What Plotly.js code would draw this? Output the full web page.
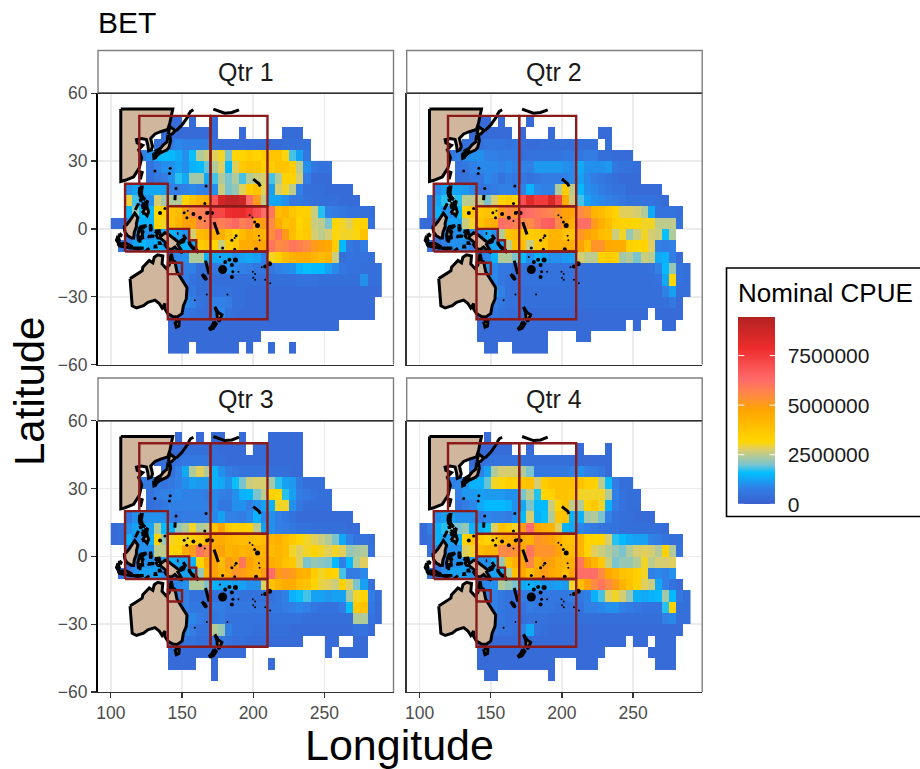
<!DOCTYPE html>
<html><head><meta charset="utf-8">
<script src="https://cdn.plot.ly/plotly-3.0.1.min.js"></script>
<style>html,body{margin:0;padding:0;background:#fff;overflow:hidden}#c{width:920px;height:769px}</style>
</head><body><div id="c"></div>
<script>
const _ = null;
// Grid cells: 5-degree tiles. Each row starts with the index of its first longitude column,
// followed by nominal CPUE in units of 100000. Rows run from north to south.
const lons = [102.5,107.5,112.5,117.5,122.5,127.5,132.5,137.5,142.5,147.5,152.5,157.5,162.5,167.5,172.5,177.5,182.5,187.5,192.5,197.5,202.5,207.5,212.5,217.5,222.5,227.5,232.5,237.5,242.5,247.5,252.5,257.5,262.5,267.5,272.5,277.5,282.5,287.5];
const lats = [52.5,47.5,42.5,37.5,32.5,27.5,22.5,17.5,12.5,7.5,2.5,-2.5,-7.5,-12.5,-17.5,-22.5,-27.5,-32.5,-37.5,-42.5,-47.5,-52.5];
const qtr1 = [
[0],
[7,3,3,3,_,3,_,_,3],
[7,3,3,3,3,3,3,3,3,_,_,_,3,_,_,_,_,_,3,3,3],
[6,4,5,7,9,8,8,8,8,4,3,3,3,3,3,3,3,3,3,4,4,4,4],
[4,8,10,15,15,15,13,10,16,24,26,28,30,20,32,32,35,33,35,37,37,31,18,12,6],
[5,5,8,10,10,12,10,14,15,19,24,28,15,28,36,38,37,34,35,38,37,35,25,10,6,5,5],
[5,4,6,7,10,17,13,23,23,13,18,24,20,24,18,24,26,27,18,24,33,33,27,7,3,3,3],
[2,10,12,13,13,13,12,8,7,8,9,8,8,10,26,20,22,28,35,38,28,12,27,30,25,8,4,4,4,3,3,3,3],
[2,29,18,10,10,27,23,24,24,32,38,42,45,68,86,90,90,88,62,50,25,13,12,10,6,6,5,4,4,4,4,3,3,3],
[2,15,22,15,15,32,33,38,40,48,55,58,60,72,72,78,80,80,76,70,62,60,40,42,37,34,34,26,17,8,7,6,5,5,4,4],
[0,3,3,7,14,14,14,33,30,38,42,48,48,56,58,60,58,60,64,58,60,48,50,55,45,38,40,32,35,26,25,20,32,30,28,32,33,5],
[2,6,10,10,10,12,12,15,12,10,27,40,42,44,44,38,34,40,45,42,43,54,60,50,40,34,36,27,25,27,31,30,30,31,38],
[1,6,8,12,15,13,14,12,15,14,14,14,35,38,32,26,35,36,45,45,47,47,60,55,56,60,58,55,50,48,46,35,15,6,5,7],
[8,8,9,10,24,24,14,13,13,13,10,12,13,12,8,30,34,40,43,45,45,42,40,42,26,4,5,5,5,4],
[8,8,9,8,8,4,4,6,8,10,9,8,7,6,6,6,8,9,10,14,16,15,15,12,9,6,5,5,4,4,4],
[8,6,7,7,5,4,4,4,4,4,4,4,4,4,4,4,4,4,4,5,5,5,4,4,4,4,4,4,10,4,4],
[8,5,6,7,6,4,4,5,5,5,4,4,3,3,3,3,3,3,3,3,3,3,3,3,3,3,3,3,3,3,3],
[8,5,7,10,8,5,4,8,8,7,4,4,3,3,3,3,3,3,3,3,3,3,3,3,3,3,3,3,3,3],
[8,5,5,6,5,4,4,8,9,5,4,3,3,3,3,3,3,3,3,3,3,3,3,3,3,3,3,3,3,3],
[8,3,3,3,3,3,3,3,3,3,3,3,3,3,3,3,3,3,3,3,3,3,3,3,3],
[8,3,3,3,3,3,3,3,3,3,3,3,3,3],
[8,3,3,3,_,3,3,3,3,3,3,_,3,_,_,3,_,_,3]
];
const qtr2 = [
[0],
[7,3,3,3,_,3,_,_,_,3],
[7,3,3,3,3,3,3,_,3,_,_,_,3,_,_,_,_,_,_,3,3],
[6,4,5,5,6,6,6,5,6,4,3,3,4,4,4,4,4,4,4,4,_,4],
[4,6,8,10,10,10,8,8,7,7,7,4,5,5,5,5,5,6,6,6,7,7,4,4,3,3,3],
[5,5,6,8,9,9,9,8,9,8,8,8,11,11,11,11,10,9,13,10,10,10,11,6,5,5,4],
[5,4,5,6,6,9,8,5,7,6,6,5,6,7,7,7,8,9,12,9,7,6,5,4,3,3,3],
[2,9,12,13,12,11,9,5,6,7,8,8,7,8,14,9,8,8,24,35,25,15,10,9,7,6,5,5,3,3,3,3,3],
[1,6,12,17,20,17,25,25,25,20,27,33,35,33,70,82,75,75,85,72,45,26,18,12,10,9,8,7,6,5,5,5,5,4,3],
[1,6,14,11,10,15,33,36,36,38,37,50,55,53,64,62,60,58,56,52,48,48,55,52,42,40,36,33,28,28,27,24,13,5,5,5,4],
[0,3,3,8,12,12,12,26,30,38,42,45,62,60,58,56,55,60,65,66,55,48,44,62,62,50,44,40,34,33,33,32,30,30,25,25,25,5],
[2,5,9,9,10,12,10,9,13,10,24,38,40,37,35,36,38,42,42,38,38,52,48,45,40,38,26,30,22,26,30,27,26,16,24],
[1,5,5,8,10,10,10,8,10,12,12,14,25,38,40,26,36,37,44,44,44,44,48,40,52,52,46,45,45,34,32,33,28,8,7,8],
[8,8,9,14,24,24,20,15,10,14,12,10,10,11,12,27,25,25,33,35,34,23,24,20,26,25,13,14,7,3],
[8,10,11,9,6,6,4,5,5,5,5,5,5,5,5,4,4,4,4,4,4,4,4,4,4,5,8,15,22,5,4],
[8,8,9,9,6,5,4,5,5,5,5,5,5,5,5,4,4,4,4,4,4,4,4,4,4,4,5,13,32,5,4],
[8,7,9,14,8,5,4,4,4,4,4,4,4,4,4,4,4,4,4,4,4,4,4,4,4,4,4,8,12,4,4],
[8,6,8,8,6,5,5,4,4,4,4,4,4,4,4,4,4,4,4,4,4,4,4,4,4,4,4,4,6,3],
[8,4,5,6,5,4,4,3,3,3,3,3,3,3,3,3,3,3,3,3,3,3,3,3,3,_,3,3,3,3],
[8,3,3,3,3,3,3,3,3,3,3,3,3,3,3,3,3,3,3,3,3,3,_,3,_,_,_,3,3],
[8,3,3,3,3,3,3,3,3,3,3,_,_,_,_,3,3],
[9,3,3,_,_,3,3,3,3,3]
];
const qtr3 = [
[9,3,_,_,3,_,3,3,_,_,3,_,_,_,3,3,3,3,3],
[7,3,3,3,4,4,4,4,4,3,3,3,3,_,3,3,3,3,3,3,3],
[6,3,4,4,5,6,6,6,6,4,4,3,3,3,3,3,3,3,3,3,3,3],
[7,4,4,8,13,24,28,24,14,10,7,6,5,5,5,5,4,4,4,3,3],
[4,6,6,6,5,6,8,10,12,11,11,14,13,10,16,20,26,27,27,23,17,12,11,6,4,4,4],
[5,5,7,8,8,9,8,8,8,7,9,8,7,10,14,15,20,25,33,32,17,12,7,6,5,4,4],
[5,4,5,6,8,8,8,8,8,8,9,6,6,10,10,8,10,12,14,30,30,10,6,4,4,4,4],
[2,6,10,10,10,10,10,7,6,7,7,7,7,9,12,8,8,7,9,14,9,10,8,6,5,3,3,3,3,3,3,3,3],
[0,3,4,10,12,13,12,24,15,14,22,24,30,24,25,38,48,36,33,34,33,25,12,10,8,7,6,5,5,4,4,4,4,4,3,3],
[0,3,4,14,10,10,14,33,22,30,32,30,34,36,42,45,45,42,40,40,40,38,40,42,44,40,36,32,30,28,26,24,20,13,8,5,5,4],
[2,5,10,10,10,25,25,32,33,45,50,60,55,46,48,42,45,42,44,44,42,40,42,40,30,28,30,33,30,28,30,28,22,23,24,5],
[2,5,8,10,10,12,12,14,12,12,14,32,46,48,40,50,46,60,48,44,44,45,42,38,36,28,20,22,21,20,15,8,15,24,28],
[1,5,6,10,12,12,12,10,12,12,12,14,22,42,48,42,46,52,50,46,44,50,63,50,52,50,44,42,35,30,34,33,18,7,7,9],
[8,8,9,10,24,24,20,14,13,13,12,12,10,10,28,38,42,45,45,40,38,33,29,28,26,33,28,20,12,4],
[8,8,9,8,5,5,5,5,6,6,6,5,5,5,5,5,6,8,14,16,18,12,12,11,12,12,23,30,33,7,4],
[8,7,8,8,6,6,6,7,7,6,6,6,6,6,6,6,6,7,8,9,8,6,5,5,5,7,16,36,38,6,3],
[8,6,7,8,9,7,6,6,7,5,5,5,5,5,5,5,5,5,5,5,4,4,4,4,4,4,4,24,24,5,3],
[8,5,6,9,7,5,5,24,22,8,5,5,5,4,4,4,4,4,3,3,3,3,3,3,3,3,3,5,5,3],
[8,4,4,5,5,4,4,6,6,5,4,4,3,3,3,3,3,3,3,3,_,_,_,3,3,_,_,3,3],
[8,3,3,3,3,3,3,3,3,3,3,3,_,_,_,_,_,_,_,_,_,_,_,3,_,3,3,3,3],
[8,3,3,3,3,_,_,3,_,_,_,_,_,_,_,3],
[14,3]
];
const qtr4 = [
[9,3],
[8,3,3,3,3,3,_,_,3,_,_,_,_,_,_,3,_,_,_,3],
[7,3,4,5,5,5,5,5,5,4,4,4,4,4,4,4,3,3,3,3,3],
[7,5,8,12,24,27,27,27,24,20,6,6,6,6,6,8,10,8,7,6,3],
[4,8,9,10,14,14,19,30,31,34,33,37,38,27,35,38,38,38,38,37,34,33,25,16,7,4,4],
[5,8,11,11,12,11,11,11,10,10,20,25,17,32,33,38,38,36,30,30,30,30,24,8,5,4,4],
[5,5,7,9,13,15,15,15,14,10,13,20,15,15,26,33,38,25,24,33,36,30,14,7,5,4,4],
[2,10,12,12,10,10,10,7,9,8,8,7,10,15,27,14,16,24,37,38,14,14,23,24,20,8,5,4,4,3,3,3],
[0,3,8,14,17,20,20,22,14,14,16,28,38,36,30,50,63,46,44,42,28,14,13,9,7,6,5,5,5,4,4,4,4,4,4,3],
[0,3,5,14,12,12,14,33,36,35,33,36,42,44,46,45,43,52,50,48,44,38,38,42,33,32,33,27,17,15,13,12,12,8,7,5,4,4],
[1,5,10,10,10,10,28,30,40,42,42,55,55,53,46,60,52,52,52,48,40,40,42,33,28,26,24,22,20,24,27,28,27,24,33,24,5],
[2,5,8,10,10,12,12,10,10,14,22,38,44,48,56,44,50,48,44,42,44,60,48,42,36,26,20,22,22,24,30,25,27,27,28],
[1,6,6,10,12,12,12,10,12,12,12,15,24,38,46,40,46,50,46,44,40,48,62,62,62,55,46,42,38,37,34,30,8,9,8,10],
[8,8,9,10,24,22,20,13,14,13,11,11,12,11,30,40,48,55,60,55,50,42,38,34,28,26,13,8,5,3],
[8,6,8,8,6,5,5,7,7,6,6,6,6,6,7,6,8,14,18,28,30,27,22,14,13,14,15,23,15,6,4],
[8,5,9,8,6,5,5,5,7,6,6,6,5,5,5,5,8,8,9,10,10,8,7,6,5,5,5,17,33,4,4],
[8,5,6,7,6,5,5,4,5,5,5,4,4,4,4,4,4,4,4,4,4,4,4,4,4,4,4,8,9,4,4],
[8,5,5,6,5,5,4,8,13,5,4,3,3,3,3,3,3,3,3,3,3,3,3,3,3,3,3,3,3,3],
[8,3,3,3,3,3,3,3,3,3,3,3,3,3,3,3,3,3,3,3,3,3,_,3,3,_,3,3,3],
[8,3,3,3,3,3,3,3,3,3,3,3,3,3,3,3,3,3,3,_,_,_,_,_,_,3,3,3,3],
[8,3,3,3,3,3,3,3,3,3,3,3,_,_,_,3,3,3,_,_,_,_,_,_,_,_,3,3,3],
[9,3,3,_,_,_,_,_,_,_,3]
];
const panelNames = ['Qtr 1','Qtr 2','Qtr 3','Qtr 4'];
const xTicks = [100,150,200,250];
const yTicks = [-60,-30,0,30,60];
const legendTicks = [0,2500000,5000000,7500000];
const legendLabels = ['0','2500000','5000000','7500000'];

// Land outlines as [longitude, latitude] pairs
const asia = [[107,53],[143.5,53],[141.5,47],[140,44],[135,43],[131,42],[128,40],[129.3,36.5],[128.5,35],[126.5,34.5],[126,37],[125,39.5],[121.5,40],[118,39.5],[118.5,38],[122.5,37],[119.5,35],[121.7,31.5],[120,27],[116,23],[110,21.5],[107,21],[107,53]];
const australia = [[113.5,-22],[114,-26],[115,-30],[115,-34],[118,-35],[123,-34],[126,-32.5],[131,-31.5],[134,-33],[136,-35],[138,-33],[138,-35.5],[140,-37.5],[143.5,-38.8],[146.5,-39],[150,-37.5],[151,-34],[153,-31],[153.5,-26],[151,-23.5],[149,-21],[146.5,-19],[145.5,-16],[145,-14.5],[143.5,-14],[142.5,-11],[141.7,-13],[141,-16],[139,-17.5],[136,-15.5],[136.5,-12],[133,-11.5],[130.5,-12.5],[129.5,-15],[127,-14],[125,-15.5],[122.5,-17],[122,-18.5],[118,-20.3],[115,-21.5],[113.5,-22]];
const borneo = [[109.5,1.5],[111,1.8],[113,3.3],[115,5],[116.8,7],[119,5],[118,2.5],[118,1],[116.5,-1.5],[116,-4],[114.5,-4],[111.8,-3],[110,-1.5],[109.5,0],[109.5,1.5]];
const newGuinea = [[131,-1],[134,-0.8],[135,-3.3],[138,-1.7],[141,-2.6],[145,-4.5],[147.8,-6],[147,-6.8],[148,-8],[150.5,-10.5],[148,-10],[145,-8],[143,-9],[141,-9],[139,-8],[138,-7],[138.5,-6],[135,-4.2],[133,-4],[132,-3],[133,-2.2],[131,-1]];
const luzon = [[120.3,18.5],[122,18.5],[121.5,16],[122,14.5],[124,13],[122,13.5],[120.5,14.5],[120,16],[120.3,18.5]];
const mindoro = [[120.5,13.5],[121.5,13],[121,12.2],[120.5,13.5]];
const mindanao = [[122,7],[123.5,8.5],[125.5,9.7],[126.5,7.5],[125.5,5.8],[124,6.8],[122,7]];
const visayas = [[122,11],[123,11.5],[123.2,9.5],[122.5,9.5],[122,11]];
const cebu = [[123.5,11],[124,10],[123.5,9.6],[123.5,11]];
const samar = [[124.5,12.5],[125.7,12],[125,10.2],[124.5,11],[124.5,12.5]];
const palawan = [[117.2,8.4],[119.5,11.3],[119,10],[117.2,8.4]];
const taiwan = [[120.2,23],[121,25.2],[122,25],[120.8,22],[120.2,23]];
const sulawesi = [[119.5,-5.5],[119,-3],[120,0],[121,1],[125,1.5],[123,0.5],[120.5,0.3],[121.5,-1],[123,-1],[122,-2],[122.5,-4.5],[121,-3],[120.5,-5.5],[119.5,-5.5]];
const halmahera = [[127.5,1],[128,2],[128.5,0],[128,-1],[127.5,1]];
const buru = [[126,-3.2],[127,-3.2],[127,-3.7],[126,-3.2]];
const seram = [[128,-3],[130.5,-3.2],[128,-3.4],[128,-3]];
const tanimbar = [[131.3,-7],[131.7,-8],[131,-8],[131.3,-7]];
const aru = [[134,-5.5],[134.8,-6.5],[134,-6.5],[134,-5.5]];
const java = [[105,-6.5],[108,-6.5],[111,-6.5],[114.5,-7.7],[114,-8.5],[110,-8],[106,-7.5],[105,-6.5]];
const bangka = [[106,-2],[107.8,-3],[106,-3],[106,-2]];
const sunda = [[115,-8.5],[119,-8.5],[123,-8.5],[119,-9],[115,-8.5]];
const timor = [[124,-10],[127,-8.5],[125,-9.8],[124,-10]];
const sumatra = [[105,-3],[106,-5],[105,-6],[104,-5],[105,-3]];
const newBritain = [[148.5,-5.5],[152,-4.2],[151,-5.7],[149,-6.2],[148.5,-5.5]];
const newIreland = [[150.8,-2.6],[153,-4.5],[152.5,-4.2],[150.8,-2.6]];
const manus = [[146.5,-2],[147.5,-2],[147,-2.3],[146.5,-2]];
const solomons = [[155,-5.5],[156,-7],[157.5,-8],[160,-9],[161.5,-10.5],[160,-9.7],[157,-8.3],[155,-6.5],[155,-5.5]];
const vanuatu = [[166.5,-14],[167.5,-16],[168.5,-18],[169,-20],[168,-18],[167,-16],[166.5,-14]];
const caledonia = [[164,-20],[166,-21],[167.3,-22.5],[166,-22],[164,-20]];
const northIsland = [[173,-34.5],[175.5,-37],[178,-38],[176,-41],[174.8,-39.5],[174.5,-37],[173,-34.5]];
const southIsland = [[172.5,-41],[174,-42],[172,-44],[170,-44.5],[169.5,-44],[171,-43],[172.5,-41]];
const tasmania = [[145,-41],[148,-41],[147.8,-43],[146,-43.5],[145,-41]];
const hokkaido = [[140.3,41.8],[141.5,45.3],[145.3,43.5],[143,42],[140.3,41.8]];
const honshu = [[130.9,34.2],[135,35.7],[137,37.3],[139.5,38.5],[140,41],[141.5,41],[142,39],[140.8,36],[139.5,35],[136.5,34],[135,33.7],[132,34],[130.9,34.2]];
const kyushu = [[130,33.5],[131.7,33.5],[131.5,31.5],[130.3,31.2],[130,33.5]];
const shikoku = [[132.5,33.8],[134.5,34.2],[134.3,33.5],[133,32.8],[132.5,33.8]];
const kurils = [[146,43.5],[150,46],[155,50.5],[150,46],[146,43.5]];
const kamchatka = [[154.5,50.5],[156,52],[158,52.7],[156,52],[154.5,50.5]];
const aleutians = [[172,53],[176,52],[180,51.2],[185,51.5],[190,52.7],[185,51.5],[180,51.2],[176,52],[172,53]];
const hawaii = [[200,22],[202,21],[204,20],[205,18.8],[204,20],[202,21],[200,22]];
const marianas = [[145.2,15],[145,12.7],[145.2,15]];
const gilbert = [[172.5,3],[174,0],[175.5,-2.5],[174,0],[172.5,3]];
const landParts = [asia,australia,borneo,newGuinea,luzon,mindoro,mindanao,visayas,cebu,samar,palawan,taiwan,sulawesi,halmahera,buru,seram,tanimbar,aru,java,bangka,sunda,timor,sumatra,newBritain,newIreland,manus,solomons,vanuatu,caledonia,northIsland,southIsland,tasmania,hokkaido,honshu,kyushu,shikoku,kurils,kamchatka,aleutians,hawaii,marianas,gilbert];

const islandLon = [131,141.7,141.2,145.8,166.9,134.6,138,151.5,154,153.4,158,162.7,166,167.6,169,171,166,197.5,199.5,201,203,185,187,188,204,204.5,202,178.5,187,176.7,180.3,183.3,185,185.7,185,189.6,187.5,199.7,201.3,200,201.3,206,208.4,211.4,208.4,211.9,167.4,181.9,159,178.5];
const islandLat = [25.6,26.8,24.5,17.9,19,7,9,7.1,8,4.9,6.6,4.9,11.2,7,7.4,7,3.5,6,5,3,1.5,-5,-4,-3,-3,-5,-9,-8.5,-9,-12.4,-14.7,-13.6,-16,-19,-21.3,-19,-13.8,-19,-20,-21.6,-22.5,-17,-16.6,-15.4,-22.5,-24,-29,-29,-31.6,-18];
const islandSize = [3,3,3,3,3,4,3,3,2,3,4,4,3,4,3,4,2,2,2,3,5,3,2,3,2,2,4,3,3,2,4,4,4,3,4,2,5,2,2,2,2,2,4,5,2,2,2,2,2,9];

const regionLon = [120,120,170,170,_,170,170,210,210,170,_,110,110,140,140,110,_,140,140,210,210,140,_,170,170,_,140,140,170,170,140,_,170,170,210,210,170,_,140,140,150,150,140,_,140,155,155,160,160];
const regionLat = [20,50,50,20,_,10,50,50,10,10,_,-10,20,20,-10,-10,_,-10,10,10,-10,-10,_,10,-10,_,-10,-40,-40,-10,-10,_,-10,-40,-40,-10,-10,_,-20,-15,-15,-20,-20,_,0,0,-5,-5,-10];

// Colour ramp (perceptual blends between the seven anchor colours)
const rampStops = [0,0.0833,0.1667,0.2083,0.25,0.2917,0.3333,0.5,0.5833,0.6667,0.75,0.8333,1];
const rampColours = ['#3A5FCD','#317FE6','#00BFFF','#76C4D2','#ACC9A0','#DCCE69','#FFD700','#FFA500','#FF8A45','#FF6A6A','#F84C4C','#EE2C2C','#B22222'];

const W = 920, H = 769;
const fx = p => p / W, fy = p => 1 - p / H;
const panelX = [[98,393.5],[406.7,702.2],[98,393.5],[406.7,702.2]];
const panelY = [[93.3,364.5],[93.3,364.5],[420.7,692],[420.7,692]];
const stripTop = [50.5,50.5,378,378];
const xRange = [91,298.5];
const legendMax = 9430000, barLeft = 738.3, barRight = 775.7, barBottom = 504.3, barPx = 187;

function grid(rows){
  return rows.map(r=>{
    const out = new Array(lons.length).fill(null);
    r.slice(1).forEach((v,i)=>{ if(v!==null) out[r[0]+i] = v*100000; });
    return out;
  });
}
const landLon=[], landLat=[];
landParts.forEach(p=>{ p.forEach(q=>{landLon.push(q[0]);landLat.push(q[1]);}); landLon.push(null); landLat.push(null); });

const traces=[], layout={
  width:W,height:H,margin:{l:0,r:0,t:0,b:0},paper_bgcolor:'#fff',plot_bgcolor:'#fff',showlegend:false,
  font:{family:'"Liberation Sans",Arial,sans-serif',color:'#000'},
  title:{text:'BET',x:fx(98),xanchor:'left',xref:'paper',y:fy(22),yanchor:'middle',font:{size:30,color:'#000'}},
  coloraxis:{cmin:0,cmax:legendMax,
    colorscale:rampColours.map((c,i)=>[rampStops[i],c]),
    colorbar:{thickness:barRight-barLeft,thicknessmode:'pixels',len:barPx,lenmode:'pixels',x:fx(barLeft),xanchor:'left',xref:'paper',
      y:fy(barBottom),yanchor:'bottom',yref:'paper',xpad:0,ypad:0,outlinewidth:0,borderwidth:0,
      tickmode:'array',tickvals:legendTicks,ticktext:legendLabels,ticks:'outside',ticklen:9,tickwidth:1,tickcolor:'rgba(255,255,255,0)',
      tickfont:{size:21,color:'#1a1a1a',family:'"Liberation Sans",Arial,sans-serif'}}},
  shapes:[],
  annotations:[]
};
[qtr1,qtr2,qtr3,qtr4].forEach((q,k)=>{
  const s = k===0?'':String(k+1);
  const xa='x'+s, ya='y'+s;
  traces.push({type:'heatmap',x:lons,y:lats,z:grid(q),coloraxis:'coloraxis',xaxis:xa,yaxis:ya,hoverongaps:false});
  traces.push({type:'scatter',mode:'lines',x:landLon,y:landLat,xaxis:xa,yaxis:ya,fill:'toself',fillcolor:'#CFB69C',line:{color:'#000',width:3,shape:'linear'},hoverinfo:'skip'});
  traces.push({type:'scatter',mode:'markers',x:islandLon,y:islandLat,xaxis:xa,yaxis:ya,marker:{color:'#000',size:islandSize,opacity:1,line:{width:0}},hoverinfo:'skip'});
  traces.push({type:'scatter',mode:'lines',x:regionLon,y:regionLat,xaxis:xa,yaxis:ya,line:{color:'#8B1A1A',width:2.4},hoverinfo:'skip'});
  const isLeft = k%2===0, isBottom = k>=2;
  layout['xaxis'+s]={domain:[fx(panelX[k][0]),fx(panelX[k][1])],range:xRange,anchor:ya,tickmode:'array',tickvals:xTicks,
    showticklabels:isBottom,ticks:isBottom?'outside':'',ticklen:5,tickwidth:1.3,tickcolor:'#333',tickfont:{size:17.5,color:'#4d4d4d'},
    showgrid:true,gridcolor:'#ebebeb',gridwidth:1.6,zeroline:false,showline:true,linecolor:'#333',linewidth:1.4,fixedrange:true};
  layout['yaxis'+s]={domain:[fy(panelY[k][1]),fy(panelY[k][0])],range:[-60,60],anchor:xa,tickmode:'array',tickvals:yTicks,
    showticklabels:isLeft,ticks:isLeft?'outside':'',ticklen:5,tickwidth:1.3,tickcolor:'#333',tickfont:{size:17.5,color:'#4d4d4d'},
    showgrid:true,gridcolor:'#ebebeb',gridwidth:1.6,zeroline:false,showline:true,linecolor:isLeft?'#000':'#333',linewidth:isLeft?2:1.4,fixedrange:true};
  const [x0,x1]=panelX[k],[y0]=panelY[k];
  layout.shapes.push({type:'rect',xref:'paper',yref:'paper',x0:fx(x0),x1:fx(x1),y0:fy(y0),y1:fy(stripTop[k]),fillcolor:'#fff',line:{color:'#7f7f7f',width:1.4},layer:'above'});
  layout.shapes.push({type:'line',xref:'paper',yref:'paper',x0:fx(x0),x1:fx(x1),y0:fy(y0),y1:fy(y0),line:{color:'#333',width:1.6},layer:'above'});
  layout.shapes.push({type:'line',xref:'paper',yref:'paper',x0:fx(x1),x1:fx(x1),y0:fy(panelY[k][1]),y1:fy(y0),line:{color:'#7f7f7f',width:1.4},layer:'above'});
  layout.annotations.push({text:panelNames[k],xref:'paper',yref:'paper',x:fx((x0+x1)/2),y:fy((stripTop[k]+y0)/2),xanchor:'center',yanchor:'middle',showarrow:false,font:{size:25,color:'#1a1a1a'}});
});
layout.annotations.push({text:'Longitude',xref:'paper',yref:'paper',x:fx(399.5),y:fy(745),xanchor:'center',yanchor:'middle',showarrow:false,font:{size:43,color:'#000'}});
layout.annotations.push({text:'Latitude',xref:'paper',yref:'paper',x:fx(29),y:fy(392),xanchor:'center',yanchor:'middle',textangle:-90,showarrow:false,font:{size:42,color:'#000'}});
layout.annotations.push({text:'Nominal CPUE',xref:'paper',yref:'paper',x:fx(736),y:fy(293),xanchor:'left',yanchor:'middle',showarrow:false,font:{size:26,color:'#000'}});
layout.shapes.push({type:'rect',xref:'paper',yref:'paper',x0:fx(726.5),x1:1.02,y0:fy(516.5),y1:fy(268),fillcolor:'#fff',line:{color:'#000',width:1.6},layer:'below'});
// White legend tick marks on both edges of the colour bar
legendTicks.forEach(v=>{
  const py = barBottom - v/legendMax*barPx;
  [[barLeft,7.5],[barRight,-7.5]].forEach(([px,ax])=>{
    layout.annotations.push({text:'',xref:'paper',yref:'paper',x:fx(px),y:fy(py),ax:ax,ay:0,axref:'pixel',ayref:'pixel',showarrow:true,arrowhead:0,arrowwidth:1,arrowcolor:'#fff',standoff:0});
  });
});
Plotly.newPlot('c',traces,layout,{displayModeBar:false,staticPlot:true});
</script></body></html>
